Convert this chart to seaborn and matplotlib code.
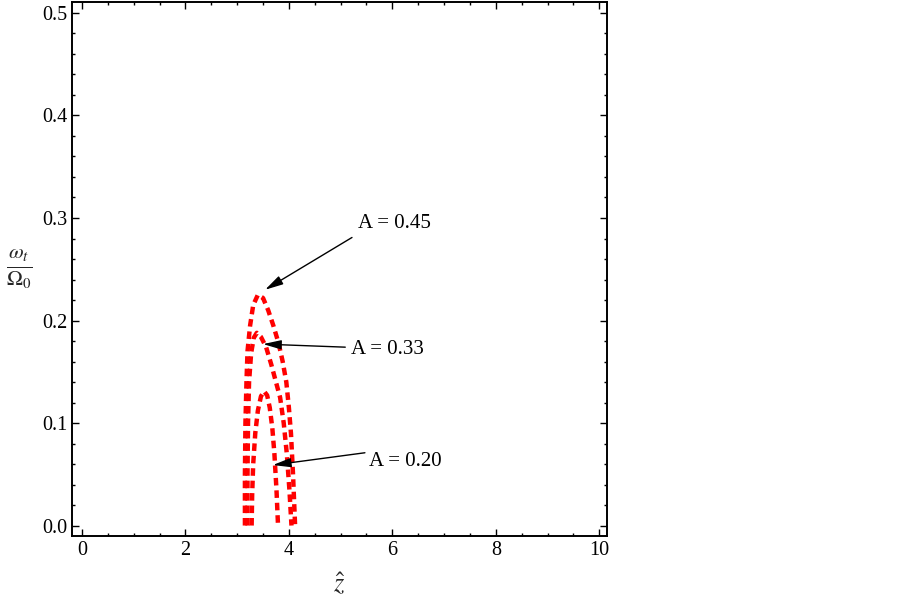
import numpy as np
import pandas as pd
import matplotlib
matplotlib.use("Agg")
import matplotlib.pyplot as plt
import seaborn as sns

# ---- data ----
x45 = [3.15, 3.15, 3.16, 3.18, 3.20, 3.25, 3.31, 3.40, 3.50, 3.60, 3.70, 3.80, 3.88, 3.95, 4.00, 4.04, 4.08, 4.12]
y45 = [0.00, 0.05, 0.10, 0.14, 0.17, 0.195, 0.215, 0.225, 0.222, 0.21, 0.195, 0.178, 0.16, 0.14, 0.115, 0.09, 0.05, 0.00]

x33 = [3.20, 3.20, 3.21, 3.23, 3.27, 3.32, 3.38, 3.46, 3.56, 3.66, 3.75, 3.83, 3.90, 3.96, 4.01, 4.05]
y33 = [0.00, 0.05, 0.10, 0.14, 0.168, 0.183, 0.188, 0.184, 0.174, 0.157, 0.14, 0.125, 0.10, 0.07, 0.035, 0.00]

x20 = [3.28, 3.29, 3.31, 3.35, 3.40, 3.46, 3.52, 3.58, 3.63, 3.68, 3.72, 3.76, 3.79]
y20 = [0.00, 0.03, 0.06, 0.09, 0.112, 0.126, 0.131, 0.127, 0.115, 0.095, 0.07, 0.035, 0.00]

labels = ["A = 0.45", "A = 0.33", "A = 0.20"]
arrow_tips = [(3.54, 0.230), (3.50, 0.177), (3.69, 0.059)]
arrow_tails = [(5.22, 0.281), (5.09, 0.174), (5.47, 0.071)]
text_pos = [(5.34, 0.295), (5.20, 0.172), (5.55, 0.062)]

xticks = [0, 2, 4, 6, 8, 10]
yticks = [0.0, 0.1, 0.2, 0.3, 0.4, 0.5]

frames = []
for lab, xs, ys in zip(labels, [x45, x33, x20], [y45, y33, y20]):
    frames.append(pd.DataFrame({"x": xs, "y": ys, "A": lab, "order": range(len(xs))}))
df = pd.concat(frames, ignore_index=True)

sns.set_style("ticks")
plt.rcParams["font.family"] = ["Liberation Serif", "DejaVu Serif"]
plt.rcParams["mathtext.fontset"] = "stix"

fig = plt.figure(figsize=(9.03, 6.03), dpi=100)
ax = fig.add_axes([72 / 903, 1 - 536 / 603, (607 - 72) / 903, (536 - 2) / 603])

sns.lineplot(data=df, x="x", y="y", hue="A", units="A", estimator=None, sort=False,
             palette=["#ff0000"] * 3, legend=False, linewidth=3.2, ax=ax)
for ln in ax.lines:
    ln.set_dashes([1.7, 1.1])
    ln.set_dash_capstyle("butt")

for lab, tip, tail, tp in zip(labels, arrow_tips, arrow_tails, text_pos):
    ax.annotate("", xy=tip, xytext=tail,
                arrowprops=dict(arrowstyle="-|>,head_length=1.1,head_width=0.28",
                                color="black", lw=1.0, shrinkA=0, shrinkB=0,
                                mutation_scale=10))
    ax.text(tp[0], tp[1], lab, fontsize=15, ha="left", va="center", color="black")

ax.set_xlim(-0.193, 10.15)
ax.set_ylim(-0.0102, 0.5107)
ax.set_xticks(xticks)
ax.set_xticklabels([str(t) for t in xticks])
ax.set_yticks(yticks)
ax.set_yticklabels([f"{t:.1f}" for t in yticks])
ax.set_xticks(np.arange(0, 10.01, 0.5), minor=True)
ax.set_yticks(np.arange(0, 0.5001, 0.02), minor=True)
ax.tick_params(which="both", direction="in", top=True, right=True, width=1.0, colors="black",
               labelsize=14.5)
ax.tick_params(which="major", length=5)
ax.tick_params(which="minor", length=2.5)
for sp in ax.spines.values():
    sp.set_visible(True)
    sp.set_linewidth(1.4)
    sp.set_color("black")

ax.set_xlabel(r"$\hat{z}$", fontsize=19, labelpad=8)
ax.set_ylabel(r"$\frac{\omega_t}{\Omega_0}$", fontsize=22, rotation=0, labelpad=16, va="center")

fig.savefig("out.png", dpi=100)
